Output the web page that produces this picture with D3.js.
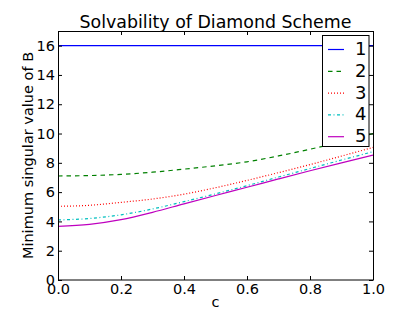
<!DOCTYPE html>
<html>
<head>
<meta charset="utf-8">
<script src="https://cdn.jsdelivr.net/npm/d3@7"></script>
<style>
  body { margin: 0; background: #fff; }
  text { font-family: "DejaVu Sans", sans-serif; fill: #000; }
</style>
</head>
<body>
<div id="chart"></div>
<script>
// values
const cValues = [0, 0.1, 0.2, 0.3, 0.4, 0.5, 0.6, 0.7, 0.8, 0.9, 1.0];
const series1 = [16, 16, 16, 16, 16, 16, 16, 16, 16, 16, 16];
const series2 = [7.10, 7.13, 7.21, 7.36, 7.57, 7.80, 8.07, 8.47, 8.93, 9.44, 10.0];
const series3 = [5.03, 5.10, 5.30, 5.53, 5.86, 6.30, 6.80, 7.33, 7.88, 8.46, 9.05];
const series4 = [4.10, 4.20, 4.45, 4.85, 5.35, 5.88, 6.44, 7.03, 7.61, 8.19, 8.76];
const series5 = [3.66, 3.80, 4.12, 4.62, 5.20, 5.77, 6.33, 6.90, 7.46, 8.00, 8.53];
const seriesNames = ["1", "2", "3", "4", "5"];
const xTicks = [0, 0.2, 0.4, 0.6, 0.8, 1.0];
const yTicks = [0, 2, 4, 6, 8, 10, 12, 14, 16];

const styles = [
  { color: "#0000ff", dash: null },
  { color: "#008000", dash: "4.5,4" },
  { color: "#ff0000", dash: "1,2" },
  { color: "#00bfbf", dash: "3,2.5,1,2.5" },
  { color: "#bf00bf", dash: null }
];

const width = 415, height = 312;
const margin = { top: 31, right: 42, bottom: 32, left: 58 };
const w = width - margin.left - margin.right,
  h = height - margin.top - margin.bottom;

const svg = d3
  .select("#chart")
  .append("svg")
  .attr("width", width)
  .attr("height", height);

const g = svg
  .append("g")
  .attr("transform", "translate(" + margin.left + "," + margin.top + ")");

const x = d3.scaleLinear().domain([0, 1]).range([0, w]);
const y = d3.scaleLinear().domain([0, 17]).range([h, 0]);

// clip for lines
g.append("clipPath")
  .attr("id", "clip")
  .append("rect")
  .attr("width", w)
  .attr("height", h);

const allSeries = [series1, series2, series3, series4, series5];

const line = d3
  .line()
  .x((d, i) => x(cValues[i]))
  .y(d => y(d))
  .curve(d3.curveMonotoneX);

allSeries.forEach((s, k) => {
  g.append("path")
    .datum(s)
    .attr("clip-path", "url(#clip)")
    .attr("fill", "none")
    .attr("stroke", styles[k].color)
    .attr("stroke-width", 1.2)
    .attr("stroke-dasharray", styles[k].dash)
    .attr("d", line);
});

// axes: ticks inside on every side
const tickLen = 4;
const axBottom = g
  .append("g")
  .attr("transform", "translate(0," + h + ")")
  .call(d3.axisBottom(x).tickValues(xTicks).tickSizeInner(-tickLen).tickSizeOuter(0).tickPadding(3).tickFormat(d3.format(".1f")));
const axTop = g
  .append("g")
  .call(d3.axisTop(x).tickValues(xTicks).tickSizeInner(-tickLen).tickSizeOuter(0).tickFormat(""));
const axLeft = g
  .append("g")
  .call(d3.axisLeft(y).tickValues(yTicks).tickSizeInner(-tickLen).tickSizeOuter(0).tickPadding(3));
const axRight = g
  .append("g")
  .attr("transform", "translate(" + w + ",0)")
  .call(d3.axisRight(y).tickValues(yTicks).tickSizeInner(-tickLen).tickSizeOuter(0).tickFormat(""));

[axBottom, axTop, axLeft, axRight].forEach(a => {
  a.select(".domain").remove();
  a.selectAll("line").attr("stroke", "#000");
  a.selectAll("text")
    .style("font-family", "DejaVu Sans, sans-serif")
    .style("font-size", "14.5px");
});
axBottom.selectAll("text").attr("dy", "0.73em");

g.append("rect")
  .attr("x", 0.5)
  .attr("y", 0.5)
  .attr("width", w)
  .attr("height", h - 0.5)
  .attr("fill", "none")
  .attr("stroke", "#000")
  .attr("stroke-width", 1);

// title and axis labels
svg.append("text")
  .attr("x", margin.left + w / 2)
  .attr("y", 28)
  .attr("text-anchor", "middle")
  .style("font-size", "17.4px")
  .text("Solvability of Diamond Scheme");

svg.append("text")
  .attr("x", margin.left + w / 2)
  .attr("y", 307)
  .attr("text-anchor", "middle")
  .style("font-size", "14.5px")
  .text("c");

svg.append("text")
  .attr("transform", "translate(33," + (margin.top + h / 2) + ") rotate(-90)")
  .attr("text-anchor", "middle")
  .style("font-size", "14.5px")
  .text("Minimum singular value of B");

// legend
const legend = svg.append("g").attr("transform", "translate(322,35)");
legend.append("rect")
  .attr("x", 0.5)
  .attr("y", 0.5)
  .attr("width", 46.5)
  .attr("height", 111)
  .attr("fill", "#fff")
  .attr("stroke", "#000");

seriesNames.forEach((name, k) => {
  const cy = 14.5 + k * 21.8;
  legend.append("line")
    .attr("x1", 6)
    .attr("x2", 22)
    .attr("y1", cy)
    .attr("y2", cy)
    .attr("stroke", styles[k].color)
    .attr("stroke-width", 1.2)
    .attr("stroke-dasharray", styles[k].dash);
  legend.append("text")
    .attr("x", 33)
    .attr("y", cy - 1)
    .attr("dy", "0.36em")
    .style("font-size", "18px")
    .text(name);
});
</script>
</body>
</html>
